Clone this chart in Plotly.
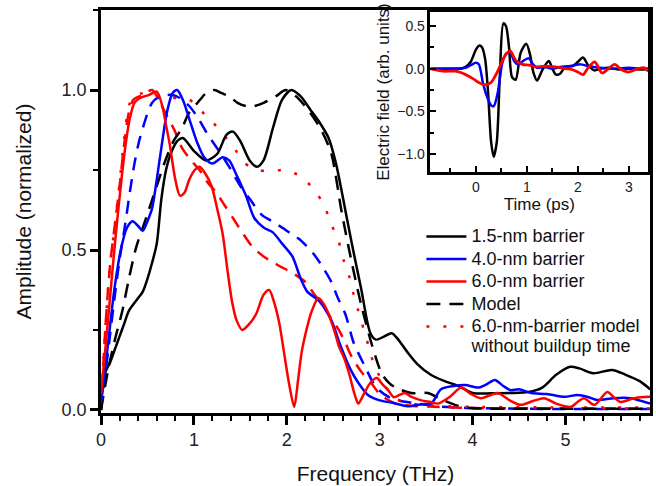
import plotly.graph_objects as go

# ---------------- main panel data (frequency in THz, normalized amplitude) ----------------
f_b15 = [0.00,0.05,0.10,0.15,0.20,0.25,0.30,0.40,0.45,0.50,0.55,0.60,0.65,0.70,0.75,0.82,0.88,
         1.00,1.13,1.25,1.35,1.42,1.50,1.60,1.68,1.75,1.85,1.95,2.05,2.15,2.25,2.35,2.45,2.53,2.60,
         2.70,2.80,2.90,2.96,3.05,3.13,3.20,3.30,3.40,3.55,3.70,3.85,4.00,4.20,4.40,4.60,4.75,4.90,
         5.05,5.15,5.30,5.50,5.65,5.80,5.91]
a_b15 = [0.03,0.12,0.15,0.19,0.23,0.27,0.31,0.35,0.37,0.41,0.46,0.52,0.66,0.75,0.80,0.84,0.85,
         0.81,0.78,0.80,0.86,0.87,0.84,0.78,0.76,0.78,0.88,0.97,1.00,0.98,0.94,0.90,0.85,0.77,0.67,
         0.52,0.38,0.24,0.22,0.23,0.24,0.22,0.18,0.145,0.11,0.09,0.075,0.053,0.052,0.053,0.056,0.07,0.11,
         0.135,0.13,0.115,0.125,0.11,0.09,0.065]

f_b40 = [0.00,0.05,0.10,0.15,0.22,0.28,0.34,0.40,0.45,0.50,0.55,0.60,0.65,0.71,0.77,0.82,0.88,0.95,
         1.03,1.11,1.20,1.31,1.38,1.45,1.56,1.65,1.75,1.85,1.95,2.06,2.15,2.22,2.35,2.48,2.58,2.68,
         2.77,2.88,3.00,3.15,3.30,3.45,3.56,3.66,3.80,3.92,4.06,4.15,4.24,4.33,4.41,4.50,4.63,4.80,
         4.99,5.13,5.25,5.34,5.52,5.70,5.91]
a_b40 = [0.02,0.14,0.27,0.39,0.51,0.57,0.59,0.575,0.56,0.59,0.63,0.72,0.82,0.93,0.99,1.00,0.97,0.91,
         0.84,0.79,0.77,0.79,0.78,0.74,0.67,0.60,0.57,0.555,0.52,0.48,0.41,0.37,0.34,0.28,0.20,0.13,
         0.085,0.045,0.03,0.022,0.012,0.018,0.022,0.065,0.075,0.078,0.07,0.08,0.094,0.075,0.062,0.065,0.053,0.05,
         0.041,0.047,0.04,0.031,0.037,0.037,0.02]

f_b60 = [0.00,0.05,0.10,0.15,0.22,0.27,0.31,0.36,0.42,0.52,0.60,0.66,0.70,0.74,0.80,0.85,0.90,0.95,
         1.01,1.06,1.12,1.19,1.25,1.31,1.36,1.41,1.46,1.52,1.60,1.67,1.75,1.81,1.87,1.92,1.97,2.02,
         2.08,2.12,2.16,2.22,2.27,2.34,2.40,2.45,2.52,2.56,2.62,2.67,2.71,2.74,2.77,2.83,2.90,2.97,
         3.03,3.09,3.15,3.22,3.27,3.35,3.45,3.55,3.63,3.75,3.88,3.98,4.09,4.18,4.27,4.40,4.52,4.65,
         4.77,4.90,5.06,5.13,5.20,5.31,5.45,5.52,5.59,5.74,5.91]
a_b60 = [0.05,0.20,0.36,0.52,0.72,0.84,0.91,0.96,0.975,0.985,0.995,0.95,0.89,0.83,0.72,0.67,0.68,0.72,
         0.75,0.76,0.74,0.70,0.63,0.55,0.44,0.34,0.28,0.25,0.27,0.30,0.36,0.375,0.33,0.27,0.18,0.09,
         0.01,0.09,0.18,0.26,0.31,0.35,0.33,0.30,0.24,0.20,0.16,0.115,0.07,0.04,0.02,0.05,0.085,0.10,
         0.08,0.063,0.04,0.048,0.053,0.04,0.03,0.025,0.02,0.04,0.07,0.05,0.037,0.045,0.053,0.03,0.016,0.028,
         0.037,0.02,0.01,0.025,0.037,0.016,0.056,0.04,0.025,0.037,0.041]

f_mod15 = [0.00,0.08,0.15,0.23,0.30,0.38,0.45,0.52,0.60,0.68,0.78,0.87,0.95,1.04,1.13,1.22,1.30,1.38,
           1.47,1.56,1.65,1.75,1.88,1.99,2.10,2.25,2.38,2.48,2.59,2.70,2.80,2.91,3.02,3.10,3.18,3.34,
           3.52,3.65,3.81,3.98,4.50,5.00,5.91]
a_mod15 = [0.00,0.13,0.22,0.31,0.41,0.51,0.57,0.63,0.70,0.77,0.84,0.88,0.93,0.96,0.99,1.00,0.99,0.98,
           0.96,0.95,0.95,0.96,0.98,1.00,0.98,0.93,0.87,0.80,0.62,0.46,0.33,0.21,0.115,0.085,0.069,0.053,
           0.053,0.035,0.016,0.006,0.004,0.004,0.004]

f_mod40 = [0.00,0.05,0.10,0.15,0.20,0.26,0.31,0.36,0.41,0.47,0.53,0.58,0.65,0.75,0.85,0.95,1.05,1.15,
           1.27,1.38,1.50,1.60,1.73,1.84,1.95,2.05,2.13,2.22,2.31,2.40,2.48,2.55,2.63,2.72,2.80,2.86,
           2.92,2.99,3.10,3.20,3.40,3.60,3.80,4.00,4.50,5.00,5.91]
a_mod40 = [0.00,0.12,0.24,0.36,0.47,0.58,0.68,0.77,0.84,0.90,0.95,0.97,0.98,0.985,0.975,0.95,0.91,0.86,
           0.81,0.76,0.70,0.66,0.61,0.59,0.57,0.55,0.535,0.51,0.48,0.44,0.40,0.35,0.30,0.21,0.16,0.125,
           0.09,0.063,0.04,0.03,0.02,0.012,0.008,0.006,0.004,0.003,0.003]

f_mod60 = [0.00,0.05,0.10,0.15,0.20,0.25,0.30,0.35,0.45,0.55,0.62,0.69,0.79,0.87,0.97,1.06,1.15,1.24,
           1.33,1.42,1.52,1.63,1.75,1.92,2.05,2.20,2.30,2.38,2.47,2.56,2.63,2.70,2.80,2.91,3.00,3.17,
           3.40,3.60,4.00,5.00,5.91]
a_mod60 = [0.00,0.27,0.46,0.58,0.70,0.83,0.93,0.97,0.985,1.00,0.97,0.93,0.875,0.82,0.78,0.75,0.71,0.68,
           0.64,0.60,0.555,0.51,0.48,0.45,0.43,0.40,0.36,0.33,0.29,0.25,0.21,0.166,0.12,0.084,0.05,0.02,
           0.012,0.01,0.006,0.005,0.005]

f_nobuild = [0.00,0.05,0.10,0.15,0.20,0.25,0.30,0.35,0.45,0.55,0.70,0.85,0.95,1.06,1.20,1.32,1.43,1.52,
             1.60,1.70,1.80,1.97,2.08,2.15,2.29,2.40,2.48,2.56,2.61,2.67,2.72,2.77,2.83,2.88,2.93,3.02,
             3.15,3.30,3.50,4.00,5.00,5.91]
a_nobuild = [0.00,0.27,0.46,0.58,0.71,0.85,0.95,0.98,0.99,0.985,0.975,0.975,0.97,0.94,0.90,0.86,0.82,0.78,
             0.76,0.75,0.745,0.75,0.74,0.73,0.69,0.64,0.58,0.525,0.47,0.42,0.36,0.31,0.25,0.20,0.15,0.094,
             0.04,0.022,0.015,0.01,0.008,0.008]

# ---------------- inset data (time in ps, electric field arb. units) ----------------
t_b15 = [-0.89,-0.5,-0.3,-0.2,-0.1,0.0,0.07,0.12,0.18,0.24,0.30,0.35,0.41,0.47,0.54,0.59,0.65,0.71,
         0.78,0.88,0.99,1.06,1.13,1.20,1.30,1.43,1.50,1.57,1.65,1.75,1.90,2.00,2.10,2.20,2.32,2.45,
         2.60,2.80,3.00,3.20,3.38]
e_b15 = [0.0,0.0,0.0,0.02,0.08,0.22,0.27,0.25,0.12,-0.28,-0.86,-1.03,-0.86,-0.09,0.53,0.50,0.25,-0.10,
         -0.13,0.19,0.29,0.17,-0.05,-0.14,-0.02,0.09,0.0,-0.07,-0.06,0.02,0.03,0.08,0.13,0.04,-0.02,0.0,
         0.01,-0.01,0.0,-0.01,0.0]

t_b40 = [-0.89,-0.5,-0.2,-0.1,0.0,0.06,0.14,0.22,0.30,0.35,0.43,0.52,0.60,0.68,0.75,0.83,0.95,1.04,
         1.12,1.20,1.35,1.50,1.65,1.85,2.05,2.20,2.43,2.70,3.00,3.20,3.38]
e_b40 = [0.0,0.0,0.01,0.04,0.07,0.05,-0.17,-0.33,-0.43,-0.44,-0.28,0.07,0.18,0.18,0.09,0.05,0.10,0.12,
         0.05,0.01,0.02,0.0,0.02,0.03,0.05,0.03,0.01,0.0,0.01,0.0,0.0]

t_b60 = [-0.89,-0.64,-0.39,-0.2,-0.05,0.05,0.17,0.30,0.42,0.56,0.67,0.78,0.91,1.05,1.17,1.35,1.55,1.75,
         1.88,2.00,2.10,2.20,2.33,2.47,2.60,2.72,2.85,2.99,3.18,3.30,3.38]
e_b60 = [0.0,-0.03,-0.03,-0.07,-0.12,-0.16,-0.19,-0.16,-0.04,0.14,0.21,0.10,0.05,0.04,0.02,0.03,0.02,0.0,
         -0.01,-0.04,-0.07,0.01,0.08,-0.05,0.0,0.05,-0.01,-0.04,0.0,0.01,-0.03]

# ---------------- text ----------------
legend_names = ["1.5-nm barrier", "4.0-nm barrier", "6.0-nm barrier", "Model",
                "6.0-nm-barrier model<br>without buildup time"]
x_title = "Frequency (THz)"
y_title = "Amplitude (normalized)"
inset_x_title = "Time (ps)"
inset_y_title = "Electric field (arb. units)"

BLACK, BLUE, RED = "#000000", "#0000ff", "#ff0000"
FONT = "Liberation Sans, Arial, sans-serif"
LW = 2.5

fig = go.Figure()

def add(x, y, color, dash, xa="x", ya="y", width=LW):
    fig.add_trace(go.Scatter(x=x, y=y, mode="lines", showlegend=False,
                             line=dict(color=color, width=width, dash=dash, shape="spline", smoothing=0.8),
                             xaxis=xa, yaxis=ya, hoverinfo="skip"))

# models first (drawn under), then measurements
add(f_mod40, a_mod40, BLUE, "13px,9px")
add(f_mod60, a_mod60, RED, "13px,9px")
add(f_nobuild, a_nobuild, RED, "3px,14px")
add(f_mod15, a_mod15, BLACK, "14px,9px")
add(f_b15, a_b15, BLACK, "solid")
add(f_b40, a_b40, BLUE, "solid")
add(f_b60, a_b60, RED, "solid")

# legend entries (order as in reference)
leg_styles = [(BLACK, "solid"), (BLUE, "solid"), (RED, "solid"), (BLACK, "14px,9px"), (RED, "3px,14px")]
for name, (col, dsh) in zip(legend_names, leg_styles):
    label = "<br>".join('<span style="font-size:18px">%s</span>' % part for part in name.split("<br>"))
    fig.add_trace(go.Scatter(x=[None], y=[None], mode="lines", name=label,
                             line=dict(color=col, width=LW, dash=dsh)))

# inset
add(t_b15, e_b15, BLACK, "solid", xa="x2", ya="y2")
add(t_b40, e_b40, BLUE, "solid", xa="x2", ya="y2")
add(t_b60, e_b60, RED, "solid", xa="x2", ya="y2", width=2.8)

axis_common = dict(showline=True, linecolor="black", linewidth=2.5, mirror=True, showgrid=False,
                   zeroline=False, tickcolor="black", tickfont=dict(family=FONT, size=18, color="#222"))

fig.update_layout(
    width=656, height=486,
    margin=dict(l=101, r=3, t=10, b=73),
    paper_bgcolor="white", plot_bgcolor="white",
    font=dict(family=FONT, color="#111"),
    showlegend=True,
    legend=dict(x=0.5836, y=0.478, xanchor="left", yanchor="top", bgcolor="rgba(0,0,0,0)",
                font=dict(family=FONT, size=15, color="#111"), valign="top",
                tracegroupgap=0, itemwidth=40),
    xaxis=dict(**axis_common, domain=[0, 1], range=[0, 5.91], tickvals=[0, 1, 2, 3, 4, 5],
               ticks="outside", ticklen=9, tickwidth=2.5,
               minor=dict(dtick=0.2, tick0=0, ticks="outside", ticklen=5, tickwidth=2, tickcolor="black"),
               title=dict(text=x_title, font=dict(family=FONT, size=21, color="#111"), standoff=17)),
    yaxis=dict(**axis_common, domain=[0, 1], range=[-0.0094, 1.25], tickvals=[0, 0.5, 1.0], tickformat=".1f",
               ticks="outside", ticklen=8, tickwidth=2.5,
               minor=dict(dtick=0.25, tick0=0, ticks="outside", ticklen=5, tickwidth=2, tickcolor="black"),
               title=dict(text=y_title, font=dict(family=FONT, size=21, color="#111"), standoff=25)),
    xaxis2=dict(showline=True, linecolor="black", linewidth=2.5, mirror=True, showgrid=False, zeroline=False,
                tickcolor="black", tickfont=dict(family=FONT, size=14, color="#222"),
                domain=[0.6, 0.997], anchor="y2", range=[-0.89, 3.38], tickvals=[0, 1, 2, 3],
                ticks="inside", ticklen=6, tickwidth=2,
                minor=dict(dtick=0.5, tick0=0, ticks="inside", ticklen=4, tickwidth=2, tickcolor="black"),
                title=dict(text=inset_x_title, font=dict(family=FONT, size=17, color="#111"), standoff=4)),
    yaxis2=dict(showline=True, linecolor="black", linewidth=2.5, mirror=True, showgrid=False, zeroline=False,
                tickcolor="black", tickfont=dict(family=FONT, size=14, color="#222"),
                domain=[0.598, 0.995], anchor="x2", range=[-1.21, 0.663], tickvals=[-1.0, -0.5, 0.0, 0.5],
                tickformat=".1f", ticks="inside", ticklen=6, tickwidth=2,
                minor=dict(dtick=0.25, tick0=0, ticks="inside", ticklen=4, tickwidth=2, tickcolor="black"),
                title=dict(text=inset_y_title, font=dict(family=FONT, size=17, color="#111"), standoff=4)),
)

# remove the browser's default 8px page margin so the figure sits at the window origin
fig.write_html("out.html", config={"displayModeBar": False},
               post_script="document.body.style.margin='0px';")
